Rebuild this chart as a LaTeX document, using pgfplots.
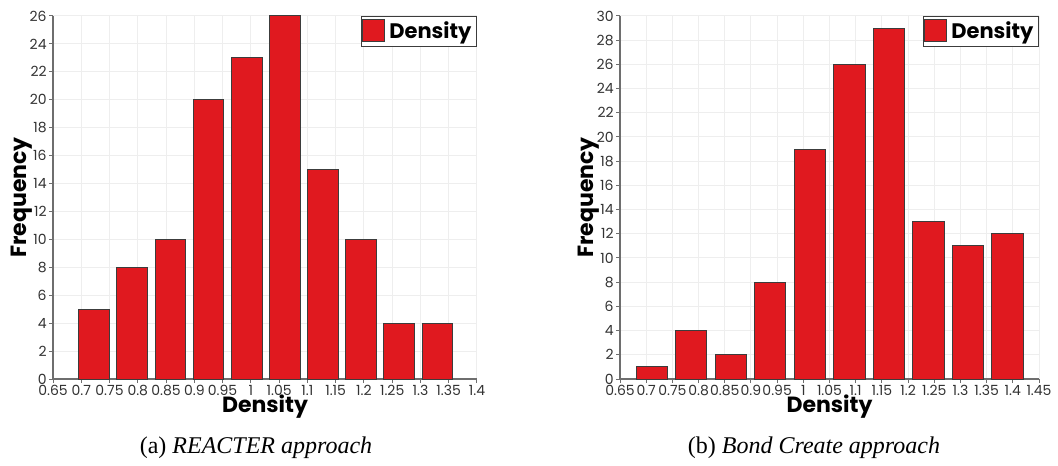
\documentclass[border=0pt]{standalone}
\usepackage{fontspec}
\setmainfont{Poppins}
\newfontfamily\capfont{Liberation Serif}
\usepackage{pgfplots}
\pgfplotsset{compat=1.18}

\definecolor{barred}{RGB}{224,25,31}
\definecolor{barline}{RGB}{60,60,60}
\definecolor{gridgray}{RGB}{238,238,238}
\definecolor{axisgray}{RGB}{110,110,110}
\definecolor{ticktext}{RGB}{50,50,50}

\pgfplotsset{
  densityhist/.style={
    scale only axis,
    height=181.5pt,
    axis lines*=left,
    axis line style={axisgray, line width=0.6pt},
    tick style={axisgray, line width=0.5pt},
    tick align=outside,
    major tick length=2pt,
    grid=major,
    major grid style={gridgray, line width=0.5pt},
    ymin=0,
    ytick distance=2,
    tick label style={font=\fontsize{7}{8}\selectfont, text=ticktext},
    /pgf/number format/assume math mode=true,
    xticklabel style={inner sep=1pt},
    yticklabel style={inner sep=1pt},
    xlabel={\bfseries Density},
    ylabel={\bfseries Frequency},
    label style={font=\fontsize{11}{12}\selectfont},
    xlabel style={yshift=5pt},
    ylabel style={yshift=-6pt},
    legend style={at={(1,1)}, anchor=north east, draw=barline, line width=0.6pt,
      font=\fontsize{10.5}{12}\selectfont\bfseries, inner sep=0.5pt,
      row sep=-1pt, legend cell align=left},
    legend image code/.code={
      \draw[fill=barred, draw=barline, line width=0.5pt] (0pt,-5pt) rectangle (11pt,6pt);
    },
  },
}

\pgfplotstableread{
x      f
0.723  5
0.790  8
0.858  10
0.925  20
0.993  23
1.060  26
1.127  15
1.195  10
1.262  4
1.330  4
}\reacter

\pgfplotstableread{
x      f
0.711  1
0.786  4
0.862  2
0.937  8
1.013  19
1.088  26
1.164  29
1.239  13
1.315  11
1.390  12
}\bondcreate

\begin{document}
\begin{tikzpicture}
\path[use as bounding box] (0,0) rectangle (529pt,232.5pt);

\begin{axis}[densityhist, at={(26.5pt,43pt)}, anchor=south west,
  width=212pt, xmin=0.65, xmax=1.4, ymax=26,
  xtick={0.65,0.7,0.75,0.8,0.85,0.9,0.95,1,1.05,1.1,1.15,1.2,1.25,1.3,1.35,1.4},
  xticklabels={0.65,0.7,0.75,0.8,0.85,0.9,0.95,1,1.05,1.1,1.15,1.2,1.25,1.3,1.35,1.4}]
  \addplot[ybar, bar width=0.0543, fill=barred, draw=barline, line width=0.5pt]
    table[x=x, y=f] {\reacter};
  \addlegendentry{Density}
\end{axis}

\begin{axis}[densityhist, at={(310pt,43pt)}, anchor=south west,
  width=209.5pt, xmin=0.65, xmax=1.45, ymax=30,
  xtick={0.65,0.7,0.75,0.8,0.85,0.9,0.95,1,1.05,1.1,1.15,1.2,1.25,1.3,1.35,1.4,1.45},
  xticklabels={0.65,0.7,0.75,0.8,0.85,0.9,0.95,1,1.05,1.1,1.15,1.2,1.25,1.3,1.35,1.4,1.45}]
  \addplot[ybar, bar width=0.0598, fill=barred, draw=barline, line width=0.5pt]
    table[x=x, y=f] {\bondcreate};
  \addlegendentry{Density}
\end{axis}

\node[font=\capfont\fontsize{12}{14}\selectfont] at (128pt,8.5pt) {(a) \textit{REACTER approach}};
\node[font=\capfont\fontsize{12}{14}\selectfont] at (407pt,8.5pt) {(b) \textit{Bond Create approach}};
\end{tikzpicture}
\end{document}
